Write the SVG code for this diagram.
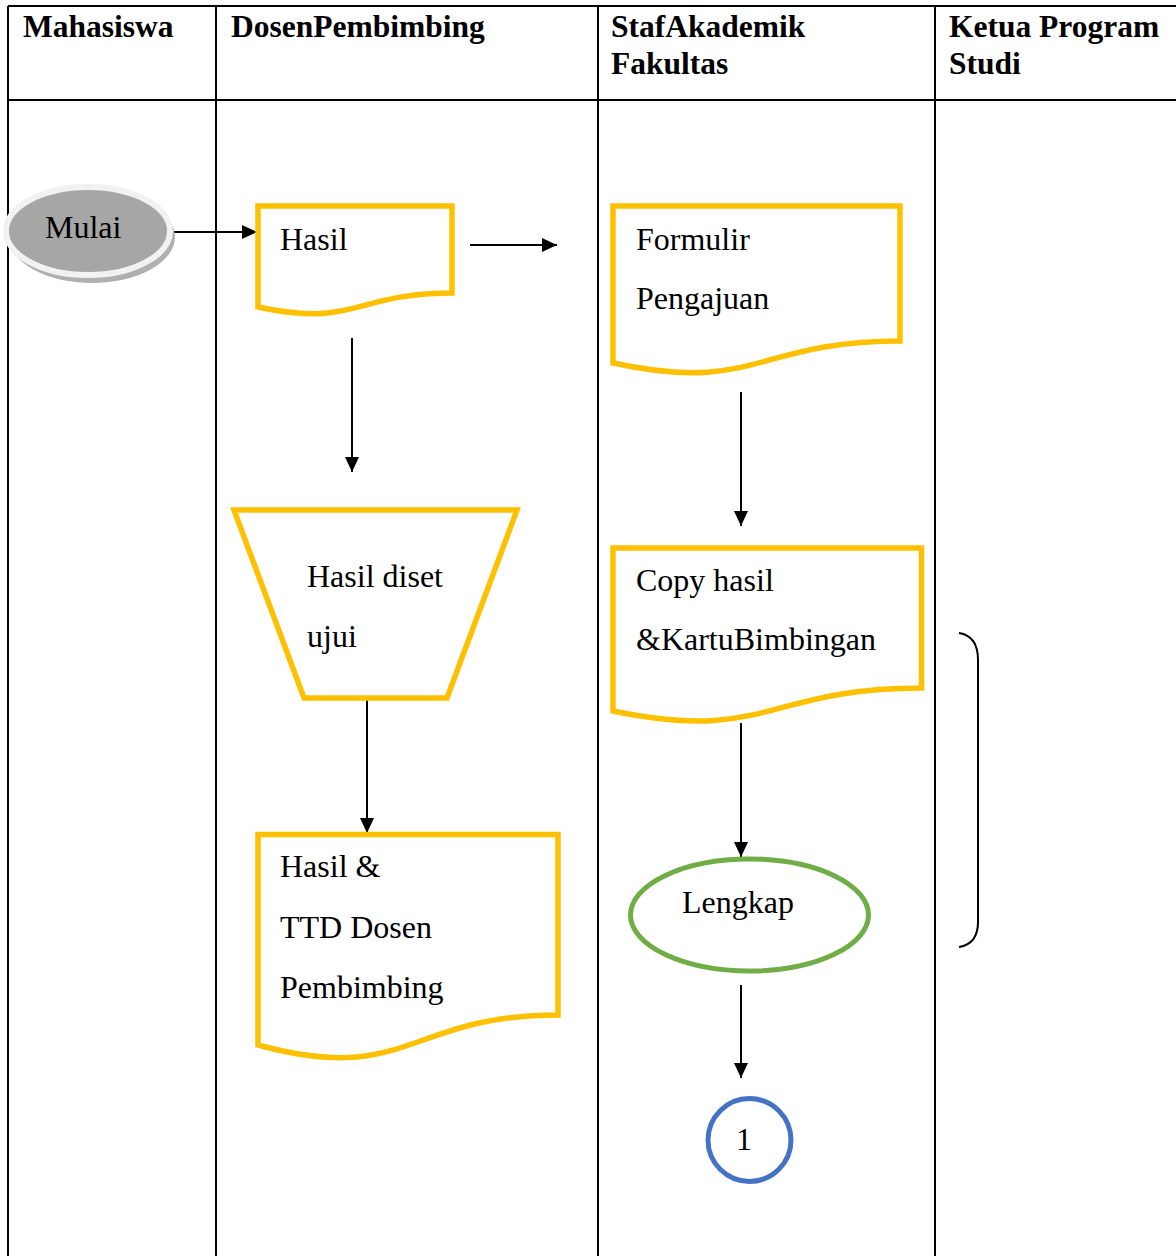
<svg xmlns="http://www.w3.org/2000/svg" width="1176" height="1256" viewBox="0 0 1176 1256">
<style>
.grid{stroke:#000;stroke-width:2;fill:none}
.hdr{font-family:"Liberation Serif","Times New Roman",serif;font-weight:bold;font-size:31.5px;fill:#000}
.txt{font-family:"Liberation Serif","Times New Roman",serif;font-size:32px;fill:#000}
.doc{fill:#fff;stroke:#ffc000;stroke-width:5.5}
.conn{stroke:#000;stroke-width:2;fill:none;marker-end:url(#ah)}
</style>
<defs>
<marker id="ah" markerWidth="15" markerHeight="14" refX="15" refY="7" orient="auto" markerUnits="userSpaceOnUse">
<path d="M0,0 L15,7 L0,14 Z" fill="#000"/>
</marker>
</defs>
<rect width="1176" height="1256" fill="#fff"/>
<g id="table">
<path class="grid" d="M8,6 H1176 M8,100 H1176 M8,6 V1256 M216,6 V1256 M598,6 V1256 M935,6 V1256"/>
<text class="hdr" x="23" y="37">Mahasiswa</text>
<text class="hdr" x="231" y="37">DosenPembimbing</text>
<text class="hdr" x="611" y="37">StafAkademik</text>
<text class="hdr" x="611" y="74">Fakultas</text>
<text class="hdr" x="949" y="37">Ketua Program</text>
<text class="hdr" x="949" y="74">Studi</text>
</g>
<g id="connectors">
<line class="conn" x1="170" y1="232" x2="257" y2="232"/>
<line class="conn" x1="470" y1="245" x2="557" y2="245"/>
<line class="conn" x1="352" y1="338" x2="352" y2="472"/>
<line class="conn" x1="367" y1="699" x2="367" y2="833"/>
<line class="conn" x1="741" y1="392" x2="741" y2="526"/>
<line class="conn" x1="741" y1="723" x2="741" y2="857"/>
<line class="conn" x1="741" y1="985" x2="741" y2="1078"/>
<path d="M959,633 Q978,636 978,660 V922 Q978,944 959,947" stroke="#000" stroke-width="2" fill="none"/>
</g>
<g id="mulai">
<ellipse cx="92" cy="237" rx="83" ry="46" fill="#b0b0b0"/>
<ellipse cx="88" cy="231" rx="82" ry="44" fill="#a6a6a6" stroke="#f2f2f2" stroke-width="6"/>
<text class="txt" x="45" y="238">Mulai</text>
</g>
<g id="hasil">
<path class="doc" d="M258,206 H452 V293 C355,293 355,328 258,307 Z"/>
<text class="txt" x="280" y="250">Hasil</text>
</g>
<g id="formulir">
<path class="doc" d="M613,206 H900 V341 C756,341 756,394 613,363 Z"/>
<text class="txt" x="636" y="250">Formulir</text>
<text class="txt" x="636" y="309">Pengajuan</text>
</g>
<g id="hasil-diuji">
<path class="doc" d="M234,510 H517 L447,698 H304 Z"/>
<text class="txt" x="307" y="587">Hasil diset</text>
<text class="txt" x="307" y="647">ujui</text>
</g>
<g id="hasil-ttd">
<path class="doc" d="M258,834.5 H558 V1015 C408,1015 408,1086 258,1045 Z"/>
<text class="txt" x="280" y="877">Hasil &amp;</text>
<text class="txt" x="280" y="938">TTD Dosen</text>
<text class="txt" x="280" y="998">Pembimbing</text>
</g>
<g id="copy-hasil">
<path class="doc" d="M613,548 H921.5 V688 C767,688 767,743 613,711 Z"/>
<text class="txt" x="636" y="591">Copy hasil</text>
<text class="txt" x="636" y="650">&amp;KartuBimbingan</text>
</g>
<g id="lengkap">
<ellipse cx="749.5" cy="915" rx="119" ry="56" fill="#fff" stroke="#70ad47" stroke-width="5"/>
<text class="txt" x="682" y="913">Lengkap</text>
</g>
<g id="connector-1">
<circle cx="749.5" cy="1140" r="41.5" fill="#fff" stroke="#4472c4" stroke-width="5"/>
<text class="txt" x="744" y="1150" text-anchor="middle">1</text>
</g>
</svg>
